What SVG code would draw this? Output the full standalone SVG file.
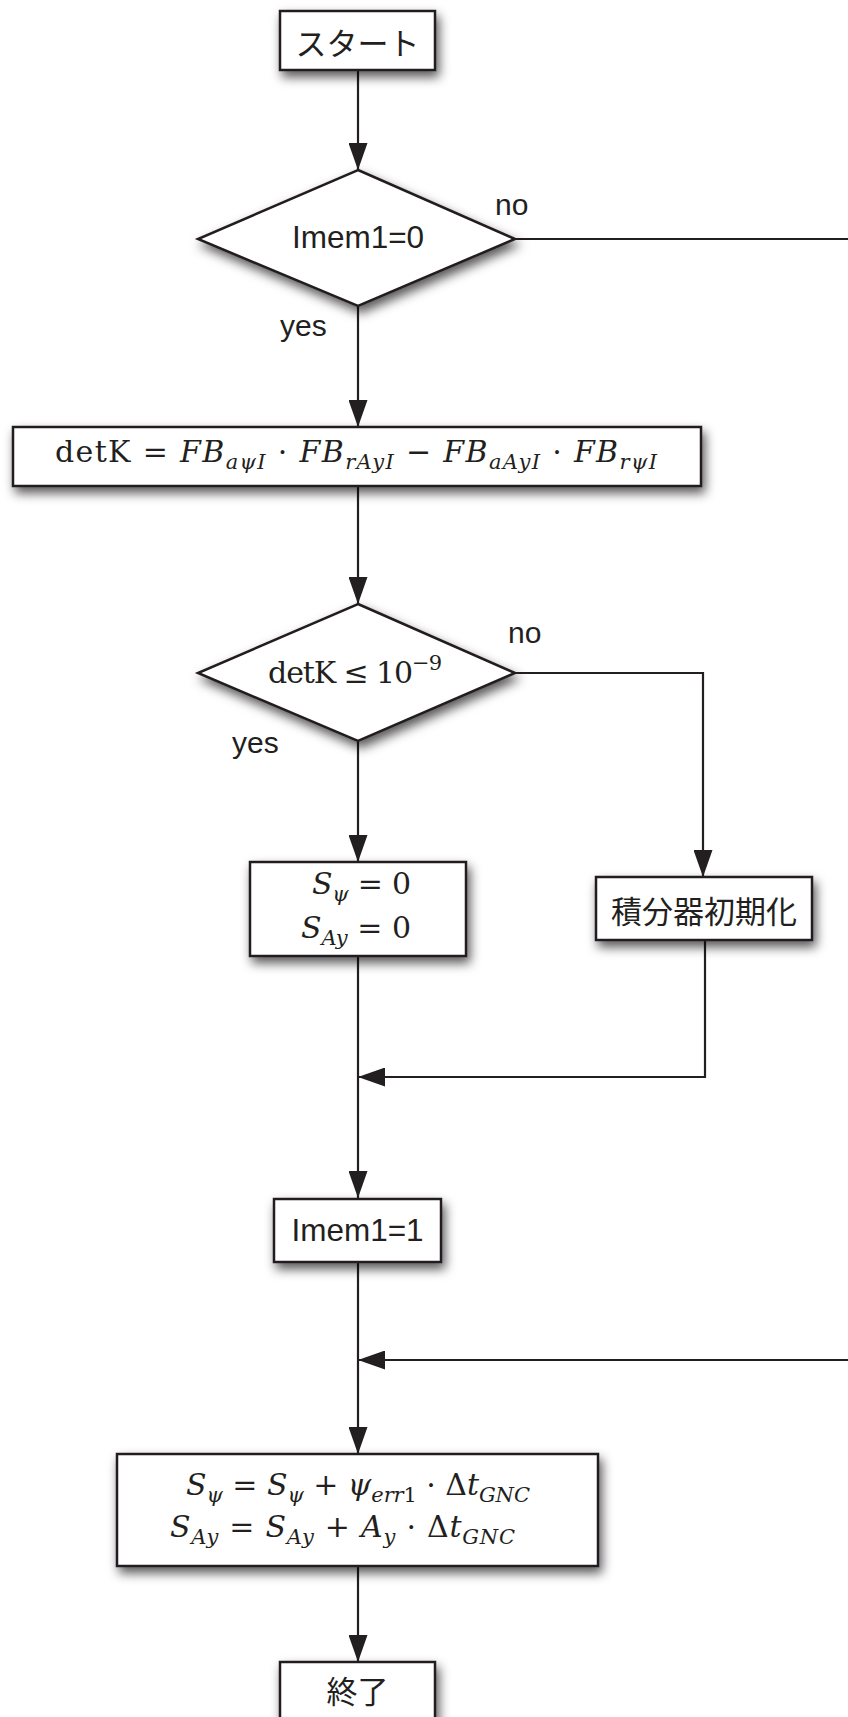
<svg xmlns="http://www.w3.org/2000/svg" width="848" height="1717" viewBox="0 0 848 1717">
  <defs>
    <filter id="shadow" x="-20%" y="-30%" width="150%" height="180%">
      <feDropShadow dx="3" dy="6" stdDeviation="5.5" flood-color="#000" flood-opacity="0.65"/>
    </filter>
    <marker id="arrow" viewBox="0 0 27 19" refX="27" refY="9.5" markerWidth="27" markerHeight="19" markerUnits="userSpaceOnUse" orient="auto">
      <path d="M0,0 L27,9.5 L0,19 Z" fill="#231f20"/>
    </marker>
    <style>
      .box { fill: #fff; stroke: #231f20; stroke-width: 2.5; filter: url(#shadow); }
      .edge { fill: none; stroke: #231f20; stroke-width: 2.2; }
      .lbl { font-family: "Liberation Sans", Arial, sans-serif; font-size: 30px; fill: #231f20; }
      .node-lbl { font-size: 31.5px; }
      .jp { font-family: "Noto Sans CJK JP", "Noto Sans CJK SC", sans-serif; font-size: 31px; fill: #231f20; }
      .math { font-family: "DejaVu Serif", "Liberation Serif", serif; font-size: 30px; fill: #231f20; }
      .it { font-style: italic; }
      .sub { font-size: 21px; font-style: italic; }
    </style>
  </defs>

  <!-- connectors -->
  <g id="connectors">
    <path class="edge" d="M358,70 V170" marker-end="url(#arrow)"/>
    <path class="edge" d="M358,306 V427" marker-end="url(#arrow)"/>
    <path class="edge" d="M515,239 H848"/>
    <path class="edge" d="M358,486 V604" marker-end="url(#arrow)"/>
    <path class="edge" d="M358,741 V862" marker-end="url(#arrow)"/>
    <path class="edge" d="M515,673 H703 V877" marker-end="url(#arrow)"/>
    <path class="edge" d="M705,940 V1077 H358" marker-end="url(#arrow)"/>
    <path class="edge" d="M358,956 V1198" marker-end="url(#arrow)"/>
    <path class="edge" d="M848,1360 H358" marker-end="url(#arrow)"/>
    <path class="edge" d="M358,1262 V1454" marker-end="url(#arrow)"/>
    <path class="edge" d="M358,1567 V1662" marker-end="url(#arrow)"/>
  </g>

  <!-- edge labels -->
  <g id="labels">
    <text class="lbl" x="495" y="215">no</text>
    <text class="lbl" x="280" y="336">yes</text>
    <text class="lbl" x="508" y="643">no</text>
    <text class="lbl" x="232" y="753">yes</text>
  </g>

  <g id="start">
    <rect class="box" x="280" y="11" width="155" height="59"/>
    <text class="jp" x="357.5" y="41" text-anchor="middle" dominant-baseline="central">スタート</text>
  </g>

  <g id="check-imem">
    <polygon class="box" points="358,170 515,239 358,306 198,239"/>
    <text class="lbl node-lbl" x="358" y="248" text-anchor="middle">Imem1=0</text>
  </g>

  <g id="detk">
    <rect class="box" x="13" y="427" width="688" height="59"/>
    <text class="math" x="55" y="462" textLength="602" lengthAdjust="spacing">detK = <tspan class="it">FB</tspan><tspan class="sub" dy="7">aψI</tspan><tspan dy="-7"> · </tspan><tspan class="it">FB</tspan><tspan class="sub" dy="7">rAyI</tspan><tspan dy="-7"> − </tspan><tspan class="it">FB</tspan><tspan class="sub" dy="7">aAyI</tspan><tspan dy="-7"> · </tspan><tspan class="it">FB</tspan><tspan class="sub" dy="7">rψI</tspan></text>
  </g>

  <g id="check-detk">
    <polygon class="box" points="358,604 515,673 358,741 198,673"/>
    <text class="math" x="268" y="683" textLength="174" lengthAdjust="spacing">detK ≤ 10<tspan font-size="21" dy="-13">−9</tspan></text>
  </g>

  <g id="reset-zero">
    <rect class="box" x="250" y="862" width="216" height="94"/>
    <text class="math" x="312" y="894" textLength="99" lengthAdjust="spacing"><tspan class="it">S</tspan><tspan class="sub" dy="7">ψ</tspan><tspan dy="-7"> = 0</tspan></text>
    <text class="math" x="301" y="938" textLength="110" lengthAdjust="spacing"><tspan class="it">S</tspan><tspan class="sub" dy="7">Ay</tspan><tspan dy="-7"> = 0</tspan></text>
  </g>

  <g id="init-integrator">
    <rect class="box" x="596" y="877" width="216" height="63"/>
    <text class="jp" x="704" y="909" text-anchor="middle" dominant-baseline="central">積分器初期化</text>
  </g>

  <g id="set-imem">
    <rect class="box" x="274" y="1199" width="167" height="63"/>
    <text class="lbl node-lbl" x="357.5" y="1241" text-anchor="middle">Imem1=1</text>
  </g>

  <g id="integrate">
    <rect class="box" x="117" y="1454" width="481" height="112"/>
    <text class="math" x="186" y="1495" textLength="344" lengthAdjust="spacing"><tspan class="it">S</tspan><tspan class="sub" dy="7">ψ</tspan><tspan dy="-7"> = </tspan><tspan class="it">S</tspan><tspan class="sub" dy="7">ψ</tspan><tspan dy="-7"> + </tspan><tspan class="it">ψ</tspan><tspan class="sub" dy="7">err</tspan><tspan font-size="21" font-style="normal">1</tspan><tspan dy="-7"> · Δ</tspan><tspan class="it">t</tspan><tspan class="sub" dy="7">GNC</tspan></text>
    <text class="math" x="170" y="1537" textLength="345" lengthAdjust="spacing"><tspan class="it">S</tspan><tspan class="sub" dy="7">Ay</tspan><tspan dy="-7"> = </tspan><tspan class="it">S</tspan><tspan class="sub" dy="7">Ay</tspan><tspan dy="-7"> + </tspan><tspan class="it">A</tspan><tspan class="sub" dy="7">y</tspan><tspan dy="-7"> · Δ</tspan><tspan class="it">t</tspan><tspan class="sub" dy="7">GNC</tspan></text>
  </g>

  <g id="end">
    <rect class="box" x="280" y="1662" width="155" height="59"/>
    <text class="jp" x="357.5" y="1689" text-anchor="middle" dominant-baseline="central">終了</text>
  </g>
</svg>
